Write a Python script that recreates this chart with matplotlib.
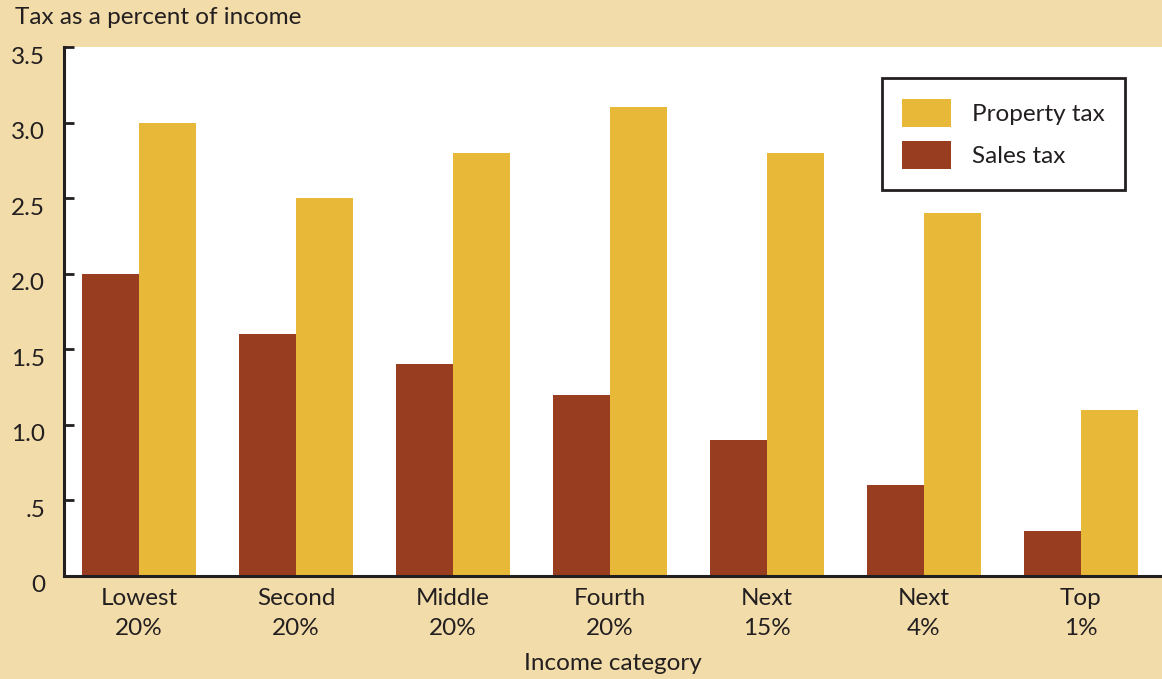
import matplotlib
matplotlib.use("Agg")
import matplotlib.pyplot as plt
import matplotlib.transforms as mtransforms
import numpy as np

categories = ["Lowest\n20%", "Second\n20%", "Middle\n20%", "Fourth\n20%", "Next\n15%", "Next\n4%", "Top\n1%"]
sales_tax = [2.0, 1.6, 1.4, 1.2, 0.9, 0.6, 0.3]
property_tax = [3.0, 2.5, 2.8, 3.1, 2.8, 2.4, 1.1]
ytick_values = [0, 0.5, 1.0, 1.5, 2.0, 2.5, 3.0, 3.5]
ytick_labels = ["0", ".5", "1.0", "1.5", "2.0", "2.5", "3.0", "3.5"]

BG = "#F2DCA9"
RUST = "#983D20"
GOLD = "#E8B838"
TXT = "#231F20"

plt.rcParams['font.family'] = ['Lato', 'DejaVu Sans']
FS = 17.5

fig = plt.figure(figsize=(11.62, 6.79), dpi=100, facecolor=BG)
ax = fig.add_axes([64/1162, 1-576/679, 1-64/1162, (576-47)/679])
ax.set_facecolor("white")

x = np.arange(len(categories))
w = 0.363
ax.bar(x - w/2, sales_tax, width=w, color=RUST, label="Sales tax", zorder=2)
ax.bar(x + w/2, property_tax, width=w, color=GOLD, label="Property tax", zorder=2)

ax.set_xlim(-0.478, len(categories) - 1 + 0.516)
ax.set_ylim(0, 3.5)

for s in ["top", "right"]:
    ax.spines[s].set_visible(False)
for s in ["left", "bottom"]:
    ax.spines[s].set_color(TXT)
    ax.spines[s].set_linewidth(2.2)

ax.set_yticks(ytick_values)
ax.set_yticklabels(ytick_labels, fontsize=FS, color=TXT)
ax.tick_params(axis='y', direction='in', length=7, width=2, color=TXT, pad=13.5)
offset = mtransforms.ScaledTranslation(0, -8/100, fig.dpi_scale_trans)
for lbl in ax.get_yticklabels():
    lbl.set_transform(lbl.get_transform() + offset)

ax.set_xticks(x)
ax.set_xticklabels(categories, fontsize=FS, color=TXT, linespacing=1.55)
ax.tick_params(axis='x', length=0, pad=8.5)

ax.set_xlabel("Income category", fontsize=FS, color=TXT, labelpad=10)
fig.text(15/1162, 1-17/679, "Tax as a percent of income", fontsize=FS, color=TXT,
         ha='left', va='center')

handles, labels = ax.get_legend_handles_labels()
leg = ax.legend(handles[::-1], labels[::-1], loc='upper right',
                bbox_to_anchor=((1125-64)/1098, (576-78)/529), borderaxespad=0,
                fontsize=FS, frameon=True, fancybox=False, edgecolor=TXT,
                framealpha=1, handlelength=2.0, handleheight=1.4,
                handletextpad=0.85, labelspacing=0.6, borderpad=0.85)
leg.get_frame().set_linewidth(2)
for t in leg.get_texts():
    t.set_color(TXT)

fig.savefig("out.png", dpi=100, facecolor=BG)
